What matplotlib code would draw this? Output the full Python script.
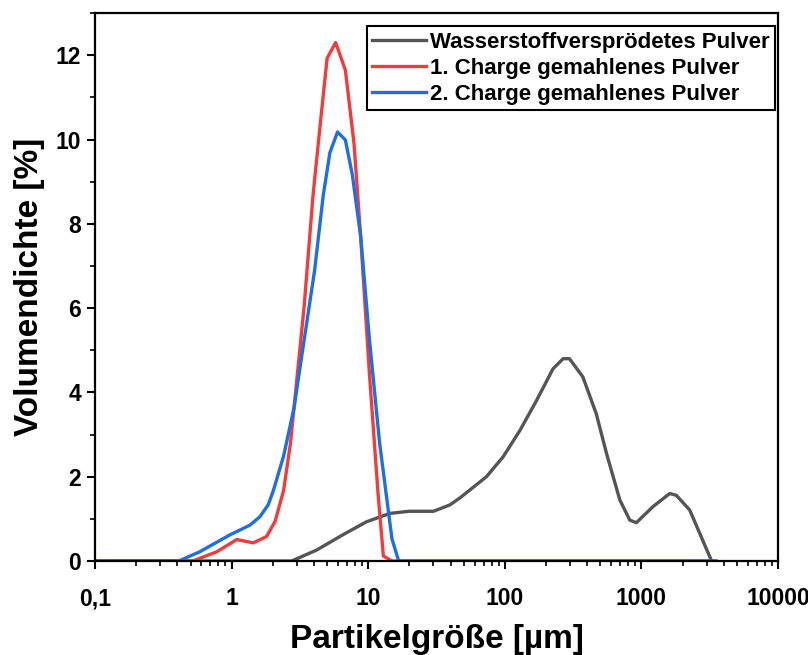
import matplotlib
matplotlib.use("Agg")
import matplotlib.pyplot as plt
from matplotlib.ticker import FixedLocator, LogLocator, NullFormatter, MultipleLocator

plt.rcParams['font.family'] = ['Liberation Sans', 'DejaVu Sans']
plt.rcParams['font.weight'] = 'bold'

# --- data (particle size in µm, volume density in %) ---
grey_x = [0.1, 2.75, 4.19, 6.5, 9.7, 14.4, 20, 30, 39.5, 46.6, 73.3, 97, 129, 170, 225, 267,
          297, 372, 466, 555, 694, 821, 918, 1213, 1607, 1797, 2254, 3260]
grey_y = [0, 0, 0.26, 0.62, 0.93, 1.13, 1.18, 1.18, 1.33, 1.49, 2.0, 2.47, 3.1, 3.8, 4.56, 4.8,
          4.8, 4.37, 3.5, 2.55, 1.45, 0.97, 0.91, 1.29, 1.6, 1.56, 1.21, 0]

red_x = [0.1, 0.52, 0.78, 1.09, 1.44, 1.80, 2.08, 2.40, 2.70, 3.03, 3.40, 3.94, 4.54, 5.0,
         5.77, 6.8, 7.87, 8.8, 10.2, 11.8, 12.9, 14.9, 3500]
red_y = [0, 0, 0.22, 0.51, 0.43, 0.58, 0.94, 1.67, 2.81, 4.44, 6.07, 8.67, 10.63, 11.93,
         12.3, 11.65, 9.9, 7.7, 4.44, 1.59, 0.12, 0, 0]

blue_x = [0.1, 0.41, 0.585, 0.97, 1.36, 1.61, 1.85, 2.02, 2.40, 2.86, 3.40, 4.05, 4.68, 5.24,
          5.96, 6.8, 7.65, 8.8, 10.2, 12.1, 14.9, 16.7, 3500]
blue_y = [0, 0, 0.22, 0.62, 0.85, 1.05, 1.33, 1.67, 2.49, 3.63, 5.26, 6.9, 8.67, 9.69,
          10.18, 9.99, 9.16, 7.7, 5.26, 2.81, 0.53, 0, 0]

labels = ["Wasserstoffversprödetes Pulver", "1. Charge gemahlenes Pulver",
          "2. Charge gemahlenes Pulver"]
x_ticks = [0.1, 1, 10, 100, 1000, 10000]
x_ticklabels = ["0,1", "1", "10", "100", "1000", "10000"]
y_ticks = [0, 2, 4, 6, 8, 10, 12]

fig = plt.figure(figsize=(8.08, 6.55), dpi=100)
ax = fig.add_axes([0.1176, 0.1435, 0.963 - 0.1176, 0.980 - 0.1435])

lw = 2.4
ax.plot(grey_x, grey_y, color='#555555', lw=lw, label=labels[0], solid_joinstyle='round')
ax.plot(red_x, red_y, color='#f23c3c', lw=lw, label=labels[1], solid_joinstyle='round')
ax.plot(blue_x, blue_y, color='#1f6fe0', lw=lw, label=labels[2], solid_joinstyle='round')

ax.set_xscale('log')
ax.set_xlim(0.1, 10000)
ax.set_ylim(0, 13)
ax.xaxis.set_major_locator(FixedLocator(x_ticks))
ax.set_xticklabels(x_ticklabels)
ax.xaxis.set_minor_locator(LogLocator(base=10, subs=range(2, 10), numticks=20))
ax.xaxis.set_minor_formatter(NullFormatter())
ax.yaxis.set_major_locator(FixedLocator(y_ticks))
ax.yaxis.set_minor_locator(MultipleLocator(1))

for s in ax.spines.values():
    s.set_linewidth(1.6)
ax.tick_params(which='major', direction='out', length=6, width=1.5, labelsize=16.5, pad=4)
ax.tick_params(which='minor', direction='out', length=3.5, width=1.2)
ax.tick_params(axis='x', which='major', pad=13)
for lab in ax.get_xticklabels() + ax.get_yticklabels():
    lab.set_fontweight('bold')

ax.set_xlabel("Partikelgröße [µm]", fontsize=24, fontweight='bold', labelpad=10)
ax.set_ylabel("Volumendichte [%]", fontsize=24, fontweight='bold', labelpad=8)

leg = ax.legend(loc='upper right', bbox_to_anchor=(0.996, 0.976), borderaxespad=0,
                fancybox=False, edgecolor='black', framealpha=1,
                prop={'size': 16, 'weight': 'bold'}, handlelength=2.4,
                handletextpad=0.2, labelspacing=0.22, borderpad=0.25)
leg.get_frame().set_linewidth(1.5)

fig.savefig("out.png", dpi=100)
